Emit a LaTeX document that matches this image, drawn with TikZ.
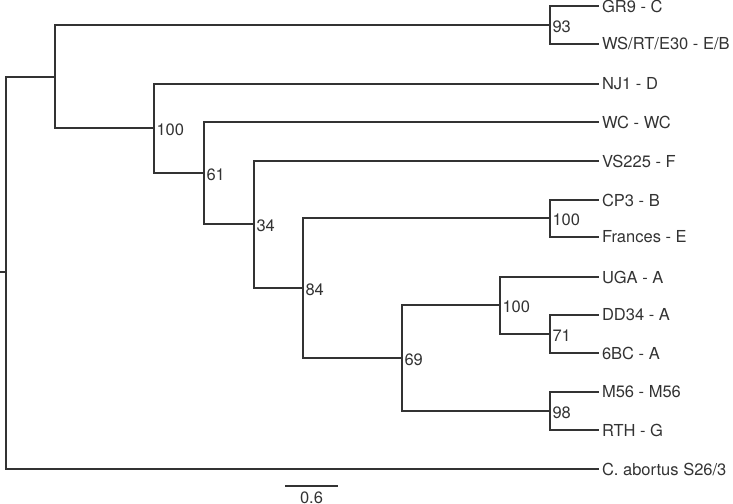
\documentclass[tikz,border=0pt]{standalone}
\usepackage{fontspec}
\setmainfont{TeX Gyre Heros}
\usetikzlibrary{positioning}

\begin{document}
\begin{tikzpicture}[x=1bp, y=-1bp, line width=1.1bp, color=black!80,
  branch/.style={to path={|- (\tikztotarget)}},
  leaf/.style={anchor=west, inner sep=2.5bp, font=\fontsize{16.5bp}{19bp}\selectfont},
  boot/.style={anchor=west, inner sep=2bp, yshift=-1.5bp, font=\fontsize{16.5bp}{19bp}\selectfont}]
  \useasboundingbox (0,0) rectangle (733,504);

  % taxa
  \node[leaf] (GR9) at (599,6) {GR9 - C};
  \node[leaf] (WS) at (599,44) {WS/RT/E30 - E/B};
  \node[leaf] (NJ1) at (599,84) {NJ1 - D};
  \node[leaf] (WC) at (599,122) {WC - WC};
  \node[leaf] (VS225) at (599,161) {VS225 - F};
  \node[leaf] (CP3) at (599,200) {CP3 - B};
  \node[leaf] (Frances) at (599,237) {Frances - E};
  \node[leaf] (UGA) at (599,277) {UGA - A};
  \node[leaf] (DD34) at (599,315) {DD34 - A};
  \node[leaf] (6BC) at (599,353) {6BC - A};
  \node[leaf] (M56) at (599,392) {M56 - M56};
  \node[leaf] (RTH) at (599,430) {RTH - G};
  \node[leaf] (Cab) at (599,469) {C. abortus S26/3};

  % internal nodes
  \coordinate (stub) at (0,272);
  \coordinate (root) at (6,272);
  \coordinate (nA) at (55,77);
  \coordinate (n93) at (550,25);
  \coordinate (n100) at (154,128);
  \coordinate (n61) at (204,173);
  \coordinate (n34) at (254,224);
  \coordinate (n84) at (303,288);
  \coordinate (nCP) at (550,218);
  \coordinate (n69) at (402,358);
  \coordinate (nUGA) at (500,305);
  \coordinate (n71) at (550,334);
  \coordinate (n98) at (550,411);

  % bootstrap values
  \node[boot] (b93) at (n93) {93};
  \node[boot] (b100) at (n100) {100};
  \node[boot] (b61) at (n61) {61};
  \node[boot] (b34) at (n34) {34};
  \node[boot] (b84) at (n84) {84};
  \node[boot] (bCP) at (nCP) {100};
  \node[boot] (b69) at (n69) {69};
  \node[boot] (bUGA) at (nUGA) {100};
  \node[boot] (b71) at (n71) {71};
  \node[boot] (b98) at (n98) {98};

  \draw (stub) -- (root);
  \path[branch]
  (root) edge (nA)
    (root) edge (Cab)
  (nA) edge (n93)
    (nA) edge (n100)
  (n93) edge (GR9)
    (n93) edge (WS)
  (n100) edge (NJ1)
    (n100) edge (n61)
  (n61) edge (WC)
    (n61) edge (n34)
  (n34) edge (VS225)
    (n34) edge (n84)
  (n84) edge (nCP)
    (n84) edge (n69)
  (nCP) edge (CP3)
    (nCP) edge (Frances)
  (n69) edge (nUGA)
    (n69) edge (n98)
  (nUGA) edge (UGA)
    (nUGA) edge (n71)
  (n71) edge (DD34)
    (n71) edge (6BC)
  (n98) edge (M56)
    (n98) edge (RTH);

  % scale bar
  \coordinate (sbL) at (285,486);
  \coordinate (sbR) at (338,486);
  \draw (sbL) -- (sbR);
  \node[boot, anchor=north, inner sep=0pt, yshift=0pt] (sbtext) at (311.5,490) {0.6};
\end{tikzpicture}
\end{document}
